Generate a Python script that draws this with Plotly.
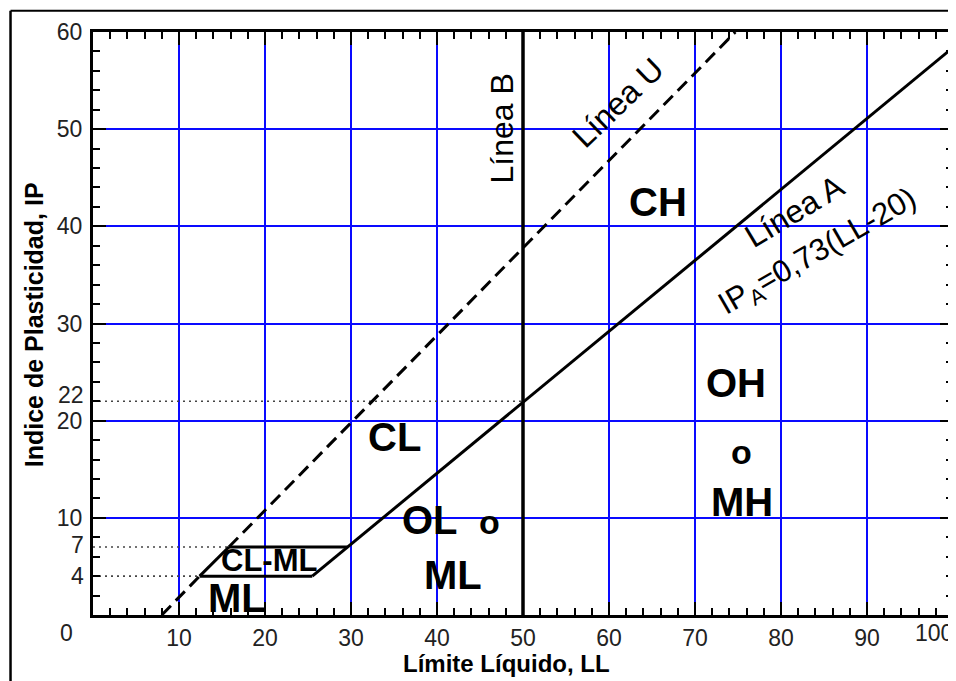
import plotly.graph_objects as go

# ---------------- data ----------------
X_TICKS = [10, 20, 30, 40, 50, 60, 70, 80, 90]
X_CORNER_TICKS = [0, 100]
X_CORNER_SHIFT = [-27, -19]
Y_TICKS = [10, 20, 30, 40, 50, 60]
Y_EXTRA_TICKS = [4, 7, 22]
Y_EXTRA_SHIFT = [0, 2, 6]

# Línea U : IP = 0.9 (LL - 8)
U_LOW_LL, U_LOW_IP = [8, 12.4], [0, 4]
U_MID_LL, U_MID_IP = [12.4, 15.8], [4, 7]
U_HIGH_LL, U_HIGH_IP = [15.8, 74.7], [7, 60]
# Línea A : IP = 0.73 (LL - 20)
A_LL, A_IP = [25.5, 100], [4, 58.4]
# Línea B : LL = 50
B_LL, B_IP = [50, 50], [0, 60]
# CL-ML band limits
BAND_TOP_LL, BAND_TOP_IP = [15.8, 29.6], [7, 7]
BAND_BOT_LL, BAND_BOT_IP = [12.4, 25.5], [4, 4]
# dotted reference lines (from LL=0 to end)
REF_IP = [22, 7, 4]
REF_END_LL = [50, 15.8, 12.4]

# zone labels
ZONE_TEXT = ["CH", "OH", "o", "MH", "CL", "OL", "o", "ML", "CL-ML", "ML"]
ZONE_LL = [65.7, 74.8, 75.4, 75.5, 35.1, 39.2, 46.1, 41.9, 20.5, 16.7]
ZONE_IP = [42.5, 23.9, 16.8, 11.6, 18.3, 9.8, 9.6, 4.1, 5.6, 1.7]
ZONE_SIZE = [40, 40, 34, 40, 40, 40, 34, 40, 31, 40]

# line labels
LINE_TEXT = ["Línea B", "Línea U", "Línea A", "IP<sub>A</sub>=0,73(LL-20)"]
LINE_LL = [47.6, 61.0, 81.6, 84.3]
LINE_IP = [50.1, 52.7, 41.6, 37.3]
LINE_ANGLE = [-90, -44, -31, -30]
LINE_SIZE = [32, 32, 32, 31]

FONT = "Liberation Sans, Arial, sans-serif"

fig = go.Figure()

def add_line(xs, ys, dash="solid", width=3, color="black"):
    fig.add_trace(go.Scatter(x=xs, y=ys, mode="lines",
                             line=dict(color=color, width=width, dash=dash),
                             hoverinfo="skip", showlegend=False))

# dotted reference lines
for ip, end in zip(REF_IP, REF_END_LL):
    add_line([0, end], [ip, ip], dash="2px,4px", width=1.6, color="#444")

add_line(U_LOW_LL, U_LOW_IP, dash="13px,7px")
add_line(U_MID_LL, U_MID_IP)
add_line(U_HIGH_LL, U_HIGH_IP, dash="13px,7px")
add_line(A_LL, A_IP)
add_line(B_LL, B_IP, width=3.5)
add_line(BAND_TOP_LL, BAND_TOP_IP)
add_line(BAND_BOT_LL, BAND_BOT_IP)

TICKFONT = dict(family=FONT, size=23, color="#222")

ann = []
for t, x, y, s in zip(ZONE_TEXT, ZONE_LL, ZONE_IP, ZONE_SIZE):
    ann.append(dict(x=x, y=y, xref="x", yref="y", text=t, showarrow=False,
                    xanchor="center", yanchor="middle",
                    font=dict(family=FONT, size=s, color="black", weight="bold")))
for t, x, y, a, s in zip(LINE_TEXT, LINE_LL, LINE_IP, LINE_ANGLE, LINE_SIZE):
    ann.append(dict(x=x, y=y, xref="x", yref="y", text=t, showarrow=False,
                    xanchor="center", yanchor="middle",
                    textangle=a, font=dict(family=FONT, size=s, color="black")))
for v, sh in zip(Y_EXTRA_TICKS, Y_EXTRA_SHIFT):
    ann.append(dict(x=0, y=v, xref="paper", yref="y", text=str(v), showarrow=False,
                    xanchor="right", yanchor="middle", xshift=-7, yshift=sh,
                    font=TICKFONT))
for v, sh in zip(X_CORNER_TICKS, X_CORNER_SHIFT):
    ann.append(dict(x=v, y=0, xref="x", yref="paper", text=str(v), showarrow=False,
                    xanchor="center", yanchor="middle",
                    xshift=sh, yshift=-18, font=TICKFONT))
ann.append(dict(x=0.481, y=-0.084, xref="paper", yref="paper", text="Límite Líquido, LL",
                xanchor="center", yanchor="middle",
                showarrow=False, font=dict(family=FONT, size=24, color="black", weight="bold")))
ann.append(dict(x=-0.0686, y=0.497, xref="paper", yref="paper", text="Indice de Plasticidad, IP",
                xanchor="center", yanchor="middle",
                showarrow=False, textangle=-90,
                font=dict(family=FONT, size=25, color="black", weight="bold")))

shapes = [
    dict(type="line", xref="paper", yref="paper", x0=-0.0959, x1=1.2, y0=1.0365, y1=1.0365,
         line=dict(color="black", width=2)),
    dict(type="line", xref="paper", yref="paper", x0=-0.0959, x1=-0.0959, y0=1.0365, y1=-0.3,
         line=dict(color="black", width=2.5)),
]

axis_common = dict(
    ticks="inside", ticklen=13, tickwidth=2, tickcolor="black",
    showline=True, linecolor="black", linewidth=3, mirror="allticks",
    showgrid=True, gridcolor="#0a0aff", gridwidth=1.5, zeroline=False,
    automargin=False,
    tickfont=TICKFONT,
    minor=dict(tickmode="linear", tick0=0, dtick=2, ticks="inside", ticklen=7,
               tickwidth=2, tickcolor="black", showgrid=False),
)

fig.update_xaxes(range=[0, 100], tickmode="array", tickvals=X_TICKS,
                 ticktext=[str(v) for v in X_TICKS], ticklabelstandoff=0, **axis_common)
fig.update_yaxes(range=[0, 60], tickmode="array", tickvals=Y_TICKS,
                 ticktext=[str(v) for v in Y_TICKS], ticklabelstandoff=3, **axis_common)

# page body has an 8px margin, so the figure is 948x673 to fill the 956x681 window
fig.update_layout(width=948, height=673, autosize=False,
                  margin=dict(l=85, r=3, t=24, b=66),
                  plot_bgcolor="white", paper_bgcolor="white",
                  showlegend=False, annotations=ann, shapes=shapes)

fig.write_html("out.html")
